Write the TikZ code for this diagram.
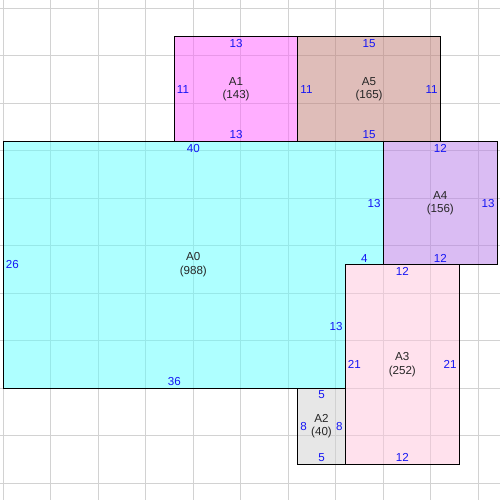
\documentclass[tikz,border=0pt]{standalone}
\usepackage{fontspec}
\setmainfont{Liberation Sans}
\definecolor{gridc}{RGB}{210,210,210}
\definecolor{cA0}{RGB}{95,255,255}
\definecolor{cA1}{RGB}{255,95,255}
\definecolor{cA5}{RGB}{193,125,117}
\definecolor{cA4}{RGB}{183,123,233}
\definecolor{cA3}{RGB}{255,197,221}
\definecolor{cA2}{RGB}{209,209,209}
\definecolor{dimc}{RGB}{20,20,245}
\begin{document}
\begin{tikzpicture}[x=9.5pt,y=9.5pt,
  region/.style={fill opacity=0.5, draw=none},
  edge/.style={draw=black, line width=1.25pt},
  gridline/.style={draw=gridc, line width=1.1pt},
  dim/.style={font=\fontsize{11.6}{13}\selectfont, text=dimc, inner sep=2.5pt},
  areaname/.style={font=\fontsize{11.6}{13.5}\selectfont, text=black!85, align=center, inner sep=0pt}]
\useasboundingbox (-0.347,-11.758) rectangle (52.284,40.874);
\fill[white] (-0.347,-11.758) rectangle (52.284,40.874);
% grid
\foreach \gx in {0,5,...,50} \draw[gridline] (\gx,-11.758) -- (\gx,40.874);
\foreach \gy in {-10,-5,...,40} \draw[gridline] (-0.347,\gy) -- (52.284,\gy);
% fills
\fill[region, cA0] (0,0) -- (0,26) -- (40,26) -- (40,13) -- (36,13) -- (36,0) -- cycle;
\fill[region, cA1] (18,26) rectangle (31,37);
\fill[region, cA5] (31,26) rectangle (46,37);
\fill[region, cA4] (40,13) rectangle (52,26);
\fill[region, cA3] (36,-8) rectangle (48,13);
\fill[region, cA2] (31,-8) rectangle (36,0);
% borders
\draw[edge] (0,0) -- (0,26) -- (40,26) -- (40,13) -- (36,13) -- (36,0) -- cycle;
\draw[edge] (18,26) rectangle (31,37);
\draw[edge] (31,26) rectangle (46,37);
\draw[edge] (40,13) rectangle (52,26);
\draw[edge] (36,-8) rectangle (48,13);
\draw[edge] (31,-8) rectangle (36,0);
% area names
\node[areaname] (nA0) at (20,13) {A0\\(988)};
\node[areaname] (nA1) at (24.5,31.5) {A1\\(143)};
\node[areaname] (nA5) at (38.5,31.5) {A5\\(165)};
\node[areaname] (nA4) at (46,19.5) {A4\\(156)};
\node[areaname] (nA3) at (42,2.5) {A3\\(252)};
\node[areaname] (nA2) at (33.5,-4) {A2\\(40)};
% A0 dimensions
\node[dim, anchor=north] (d0t) at (20,26) {40};
\node[dim, anchor=west] (d0l) at (0,13) {26};
\node[dim, anchor=south] (d0b) at (18,0) {36};
\node[dim, anchor=east] (d0r1) at (40,19.5) {13};
\node[dim, anchor=south] (d0s) at (38,13) {4};
\node[dim, anchor=east] (d0r2) at (36,6.5) {13};
% A1
\node[dim, anchor=north] (d1t) at (24.5,37) {13};
\node[dim, anchor=south] (d1b) at (24.5,26) {13};
\node[dim, anchor=west] (d1l) at (18,31.5) {11};
% A5
\node[dim, anchor=north] (d5t) at (38.5,37) {15};
\node[dim, anchor=south] (d5b) at (38.5,26) {15};
\node[dim, anchor=west] (d5l) at (31,31.5) {11};
\node[dim, anchor=east] (d5r) at (46,31.5) {11};
% A4
\node[dim, anchor=north] (d4t) at (46,26) {12};
\node[dim, anchor=south] (d4b) at (46,13) {12};
\node[dim, anchor=east] (d4r) at (52,19.5) {13};
% A3
\node[dim, anchor=north] (d3t) at (42,13) {12};
\node[dim, anchor=south] (d3b) at (42,-8) {12};
\node[dim, anchor=west] (d3l) at (36,2.5) {21};
\node[dim, anchor=east] (d3r) at (48,2.5) {21};
% A2
\node[dim, anchor=north] (d2t) at (33.5,0) {5};
\node[dim, anchor=south] (d2b) at (33.5,-8) {5};
\node[dim, anchor=west] (d2l) at (31,-4) {8};
\node[dim, anchor=east] (d2r) at (36,-4) {8};
\end{tikzpicture}
\end{document}
